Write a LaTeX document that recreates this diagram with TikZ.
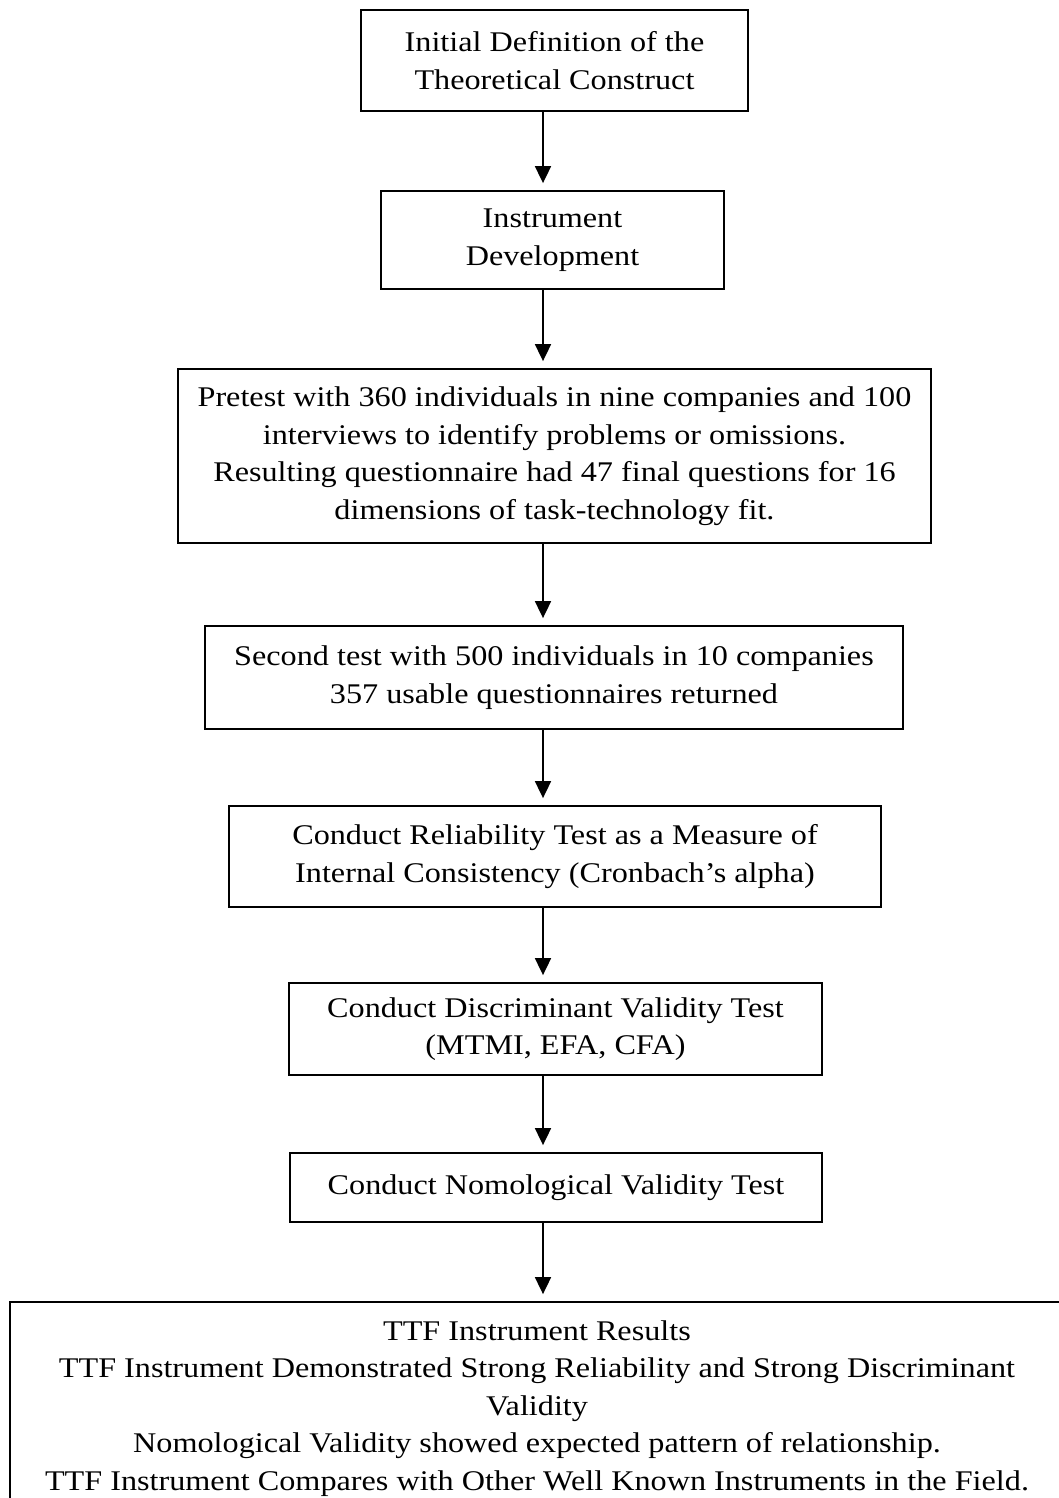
\documentclass[tikz,border=0pt]{standalone}
\usepackage{fontspec}
\setmainfont{Liberation Serif}[FakeStretch=1.13]
\usetikzlibrary{arrows.meta}
\begin{document}
\begin{tikzpicture}[x=1pt,y=-1pt,
  box/.style={draw,line width=1.8pt,align=center,inner sep=0pt,
    font=\fontsize{28.5}{37.5}\selectfont},
  arr/.style={-{Triangle[width=16pt,length=17pt]},line width=1.8pt,shorten >=7pt}]
\useasboundingbox (0,0) rectangle (1059,1498);
\clip (0,0) rectangle (1059,1498);
\coordinate (ax) at (543,0);
\node[box,minimum width=387pt,minimum height=101pt] (b1) at (554.5,60.5)
  {Initial Definition of the\\Theoretical Construct};
\node[box,minimum width=343pt,minimum height=98pt] (b2) at (552.5,240)
  {Instrument\\Development};
\node[box,minimum width=753pt,minimum height=174pt] (b3) at (554.5,456)
  {Pretest with 360 individuals in nine companies and 100\\
   interviews to identify problems or omissions.\\
   Resulting questionnaire had 47 final questions for 16\\
   dimensions of task-technology fit.};
\node[box,minimum width=698pt,minimum height=103pt] (b4) at (554,677.5)
  {Second test with 500 individuals in 10 companies\\
   357 usable questionnaires returned};
\node[box,minimum width=652pt,minimum height=101pt] (b5) at (555,856.5)
  {Conduct Reliability Test as a Measure of\\
   Internal Consistency (Cronbach's alpha)};
\node[box,minimum width=533pt,minimum height=92pt] (b6) at (555.5,1029)
  {Conduct Discriminant Validity Test\\(MTMI, EFA, CFA)};
\node[box,minimum width=532pt,minimum height=69pt] (b7) at (556,1187.5)
  {Conduct Nomological Validity Test};
\node[box,minimum width=1054pt,minimum height=213pt] (b8) at (537,1408.5)
  {TTF Instrument Results\\
   TTF Instrument Demonstrated Strong Reliability and Strong Discriminant\\
   Validity\\
   Nomological Validity showed expected pattern of relationship.\\
   TTF Instrument Compares with Other Well Known Instruments in the Field.};
\draw[arr] (b1.south -| ax) -- (b2.north -| ax);
\draw[arr] (b2.south -| ax) -- (b3.north -| ax);
\draw[arr] (b3.south -| ax) -- (b4.north -| ax);
\draw[arr] (b4.south -| ax) -- (b5.north -| ax);
\draw[arr] (b5.south -| ax) -- (b6.north -| ax);
\draw[arr] (b6.south -| ax) -- (b7.north -| ax);
\draw[arr] (b7.south -| ax) -- (b8.north -| ax);
\end{tikzpicture}
\end{document}
